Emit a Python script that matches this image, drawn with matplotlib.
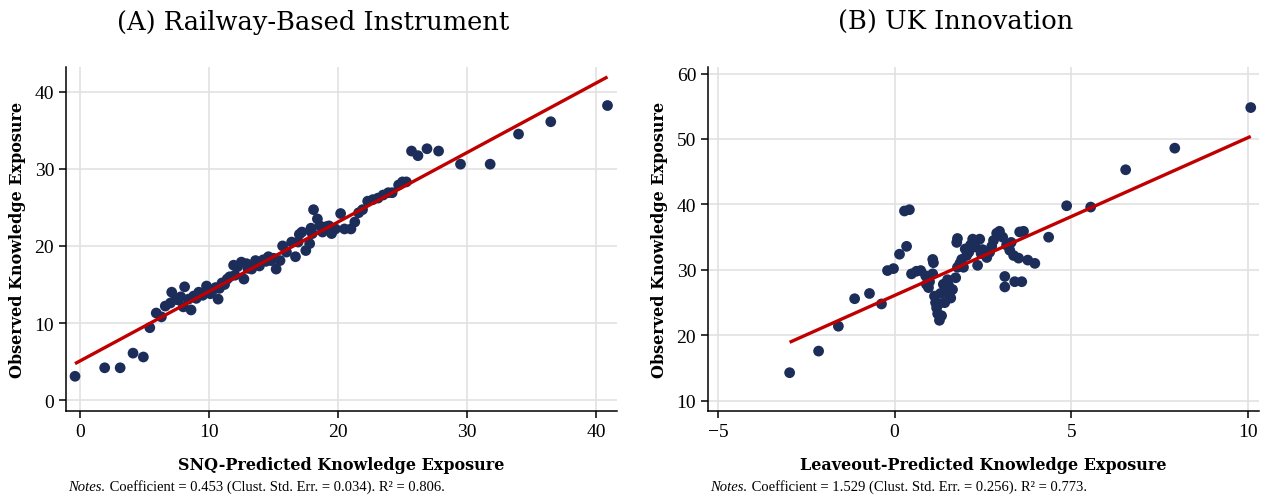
import numpy as np
import matplotlib
matplotlib.use("Agg")
import matplotlib.pyplot as plt

# Panel A: SNQ-predicted vs observed knowledge exposure
snq_pred = [-0.4, 1.9, 3.1, 4.1, 4.9, 5.4, 5.9, 6.3, 6.6, 7.0, 7.1, 7.4, 7.8, 8.1, 8.0,
            8.4, 8.6, 8.8, 9.2, 9.5, 9.8, 10.1, 10.3, 10.7, 10.8, 11.0, 11.4, 11.6, 11.9,
            12.2, 12.5, 12.7, 12.9, 13.3, 13.6, 13.9, 14.2, 14.6, 14.8, 15.2, 15.5, 15.7,
            16.0, 16.4, 16.7, 16.9, 17.2, 17.5, 17.8, 18.0, 18.1, 18.4, 18.8, 19.1, 19.5,
            19.8, 20.2, 20.5, 21.0, 21.3, 21.6, 21.9, 22.3, 22.7, 23.1, 23.5, 23.9, 24.2,
            24.7, 25.0, 25.3, 25.7, 26.2, 26.9, 27.8, 29.5, 31.8, 34.0, 36.5, 40.9,
            7.6, 9.0, 10.5, 11.2, 12.0, 13.0, 14.4, 15.0, 17.0, 17.9, 18.6, 19.3]
snq_obs = [3.1, 4.2, 4.2, 6.1, 5.6, 9.4, 11.3, 10.8, 12.2, 12.6, 14.0, 13.1, 13.4, 14.7, 12.1,
           13.1, 11.7, 13.5, 14.0, 13.6, 14.8, 13.8, 14.3, 13.1, 14.5, 15.2, 15.7, 16.0, 17.5,
           17.3, 17.9, 15.7, 17.7, 17.0, 18.1, 17.4, 18.2, 18.6, 18.1, 17.0, 18.1, 20.0,
           19.2, 20.5, 18.6, 20.5, 21.8, 19.4, 20.3, 21.6, 24.7, 23.5, 21.8, 22.5, 21.6,
           22.2, 24.2, 22.2, 22.2, 23.1, 24.3, 24.7, 25.8, 26.0, 26.2, 26.6, 26.9, 26.9,
           27.9, 28.3, 28.3, 32.3, 31.7, 32.6, 32.3, 30.6, 30.6, 34.5, 36.1, 38.2,
           13.0, 13.2, 14.6, 15.0, 16.2, 17.1, 18.0, 18.4, 21.5, 22.3, 22.6, 22.6]
fit_a = (5.1, 0.90)  # intercept, slope of fitted line

# Panel B: leaveout-predicted vs observed knowledge exposure
lo_pred = [-2.97, -2.15, -1.59, -1.13, -0.71, -0.37, -0.20, -0.03, 0.14, 0.34, 0.28, 0.42,
           0.48, 0.62, 0.74, 0.88, 0.99, 1.08, 0.96, 1.08, 1.10, 1.13, 1.16, 1.19, 1.22,
           1.27, 1.33, 1.42, 1.47, 1.53, 1.59, 1.64, 1.73, 1.78, 1.76, 1.78, 1.90, 1.95,
           2.04, 2.10, 2.15, 2.21, 2.29, 2.35, 2.41, 2.49, 2.61, 2.69, 2.80, 2.89, 2.97,
           3.06, 3.12, 3.12, 3.17, 3.26, 3.37, 3.40, 3.51, 3.54, 3.60, 3.65, 3.77, 3.97,
           4.36, 4.87, 5.55, 6.54, 7.93, 10.08,
           1.25, 1.30, 1.38, 1.50, 1.85, 2.45, 2.75, 3.30, 0.90, 2.00]
lo_obs = [14.3, 17.6, 21.4, 25.6, 26.4, 24.8, 29.9, 30.2, 32.4, 33.6, 39.0, 39.2,
          29.4, 29.8, 29.9, 29.1, 28.2, 29.4, 27.3, 31.6, 31.1, 26.0, 25.0, 24.2, 23.3,
          22.3, 23.0, 25.0, 26.5, 27.6, 25.7, 27.0, 28.8, 30.4, 34.2, 34.8, 31.6, 30.4,
          32.2, 32.7, 33.8, 34.7, 33.5, 30.7, 34.7, 33.1, 31.9, 32.7, 34.5, 35.6, 35.9,
          35.0, 29.0, 27.4, 33.8, 33.0, 32.2, 28.2, 31.8, 35.8, 28.2, 35.9, 31.5, 31.0,
          35.0, 39.8, 39.6, 45.3, 48.6, 54.8,
          24.8, 26.4, 27.8, 28.5, 31.0, 32.5, 33.6, 34.2, 27.8, 33.2]
fit_b = (26.1, 2.41)

panels = [
    dict(x=snq_pred, y=snq_obs, fit=fit_a, xlim=(-1.1, 41.6), ylim=(-1.4, 43.2),
         xticks=[0, 10, 20, 30, 40], yticks=[0, 10, 20, 30, 40],
         title="(A) Railway-Based Instrument", tx=0.247,
         xlabel="SNQ-Predicted Knowledge Exposure",
         note=" Coefficient = 0.453 (Clust. Std. Err. = 0.034). R² = 0.806."),
    dict(x=lo_pred, y=lo_obs, fit=fit_b, xlim=(-5.28, 10.3), ylim=(8.45, 61),
         xticks=[-5, 0, 5, 10], yticks=[10, 20, 30, 40, 50, 60],
         title="(B) UK Innovation", tx=0.754,
         xlabel="Leaveout-Predicted Knowledge Exposure",
         note=" Coefficient = 1.529 (Clust. Std. Err. = 0.256). R² = 0.773."),
]

dot_color = "#1c2d5a"
line_color = "#c00000"
tick_font = "Liberation Serif"
head_font = "DejaVu Serif"

fig = plt.figure(figsize=(12.67, 5.02), dpi=100)
lefts = [66 / 1267, 708 / 1267]

for left, p in zip(lefts, panels):
    ax = fig.add_axes([left, 0.1793, 0.4345, 0.6853])
    ax.set_xlim(*p["xlim"])
    ax.set_ylim(*p["ylim"])
    ax.set_xticks(p["xticks"])
    ax.set_yticks(p["yticks"])
    ax.grid(True, color="#e2e2e2", linewidth=1.2, zorder=0)
    ax.set_axisbelow(True)
    for s in ["top", "right"]:
        ax.spines[s].set_visible(False)
    for s in ["left", "bottom"]:
        ax.spines[s].set_linewidth(1.1)
    ax.tick_params(length=5, width=1.1, labelsize=14, direction="out")
    for lab in ax.get_xticklabels() + ax.get_yticklabels():
        lab.set_fontfamily(tick_font)

    ax.scatter(p["x"], p["y"], s=60, color=dot_color, edgecolors="none", zorder=3)
    xs = np.array([min(p["x"]), max(p["x"])])
    a, b = p["fit"]
    ax.plot(xs, a + b * xs, color=line_color, linewidth=2.4, zorder=4,
            solid_capstyle="butt")

    ax.set_xlabel(p["xlabel"], fontsize=11.5, fontweight="bold", family=head_font,
                  labelpad=12)
    ax.set_ylabel("Observed Knowledge Exposure", fontsize=11.5, fontweight="bold",
                  family=head_font, labelpad=6)

    fig.text(p["tx"], 0.955, p["title"], ha="center", va="center", fontsize=18.5,
             family=head_font)
    t = fig.text(left + 0.002, 0.022, "Notes.", fontsize=10.5, style="italic",
                 family=tick_font, va="baseline")
    ax.annotate(p["note"], xy=(1, 0), xycoords=t, fontsize=10.5, family=tick_font,
                va="bottom", annotation_clip=False)

fig.savefig("out.png", dpi=100)
